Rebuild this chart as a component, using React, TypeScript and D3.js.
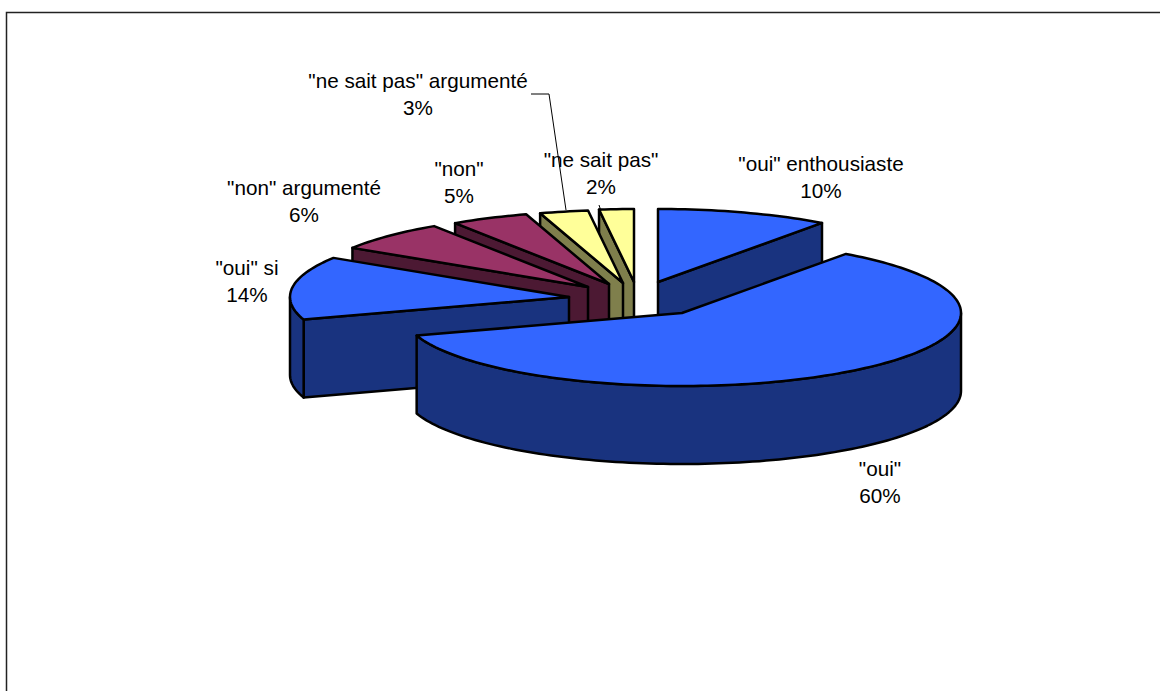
import React from "react";
import * as d3 from "d3";

const categories = ['"oui" enthousiaste', '"oui"', '"oui" si', '"non" argumenté', '"non"', '"ne sait pas" argumenté', '"ne sait pas"'];
const shares = [10, 60, 14, 6.7, 4.5, 2.8, 2];
const percentLabels = ["10%", "60%", "14%", "6%", "5%", "3%", "2%"];
const topColors = ["#3366FF", "#3366FF", "#3366FF", "#993366", "#993366", "#FFFF99", "#FFFF99"];
const sideColors = ["#19337F", "#19337F", "#19337F", "#4C1933", "#4C1933", "#7F7F4C", "#7F7F4C"];

// layout: apex of each exploded slice
const apexX = [658, 682, 569, 588, 609, 623, 634];
const apexY = [282, 313, 297, 287, 284, 283, 282];
const labelX = [821, 880, 247, 304, 459, 418, 601];
const labelY = [171, 476, 275, 195, 176, 88, 167];

const RX = 279, RY = 73, DEPTH = 78;

function arcPts(cx: number, cy: number, a0: number, a1: number, dy = 0) {
  const n = Math.max(2, Math.ceil((a1 - a0) * 40));
  const a = d3.scaleLinear().domain([0, n]).range([a0, a1]);
  return d3.range(n + 1).map((i) => {
    const t = a(i);
    return [cx + RX * Math.sin(t), cy - RY * Math.cos(t) + dy] as [number, number];
  });
}

export default function App() {
  const pie = d3.pie<number>().sort(null)(shares);
  const line = d3.line();
  // paint order: back slices first, big front slice last
  const order = [0, 6, 5, 4, 3, 2, 1];
  const font = "Liberation Sans, Arial, sans-serif";
  return (
    <svg width={1160} height={691} style={{ position: "absolute", left: 0, top: 0, background: "#fff" }}>
      <path d="M6.5,691V12.5H1160" fill="none" stroke="#222" strokeWidth={1.5} />
      {order.map((i) => {
        const p = pie[i];
        const cx = apexX[i], cy = apexY[i];
        const a0 = p.startAngle, a1 = p.endAngle;
        const rim = arcPts(cx, cy, a0, a1);
        const s0: [number, number] = [cx, cy];
        const walls: [number, number][][] = [];
        const down = (pts: [number, number][]) => pts.map(([x, y]) => [x, y + DEPTH] as [number, number]);
        const start = rim[0], end = rim[rim.length - 1];
        // visible cut face
        if (i === 0) walls.push([s0, end, ...down([end]), ...down([s0])]);
        if (i >= 2) walls.push([s0, start, ...down([start]), ...down([s0])]);
        // outer wall on the front half of the ellipse
        const lo = Math.max(a0, Math.PI / 2), hi = Math.min(a1, (3 * Math.PI) / 2);
        if (lo < hi) {
          const outer = arcPts(cx, cy, lo, hi);
          walls.push([...outer, ...down(outer).reverse()]);
        }
        return (
          <g key={categories[i]} stroke="#000" strokeWidth={2.5} strokeLinejoin="round">
            {walls.map((w, k) => (
              <path key={k} d={line(w)! + "Z"} fill={sideColors[i]} />
            ))}
            <path d={line([s0, ...rim])! + "Z"} fill={topColors[i]} />
          </g>
        );
      })}
      <path d={line([[531, 94], [549, 94], [566, 210]])!} fill="none" stroke="#000" strokeWidth={1} />
      <path d={line([[599, 205], [601, 211]])!} fill="none" stroke="#000" strokeWidth={1} />
      {categories.map((c, i) => (
        <text key={c} x={labelX[i]} y={labelY[i]} textAnchor="middle" fontFamily={font} fontSize={20.7} fill="#000">
          <tspan x={labelX[i]}>{c}</tspan>
          <tspan x={labelX[i]} dy={27}>{percentLabels[i]}</tspan>
        </text>
      ))}
    </svg>
  );
}
